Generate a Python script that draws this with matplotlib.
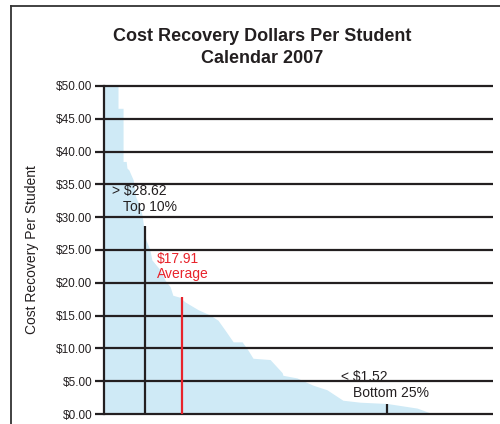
import numpy as np
import matplotlib
matplotlib.use("Agg")
import matplotlib.pyplot as plt
from matplotlib.lines import Line2D

plt.rcParams['font.family'] = ['Liberation Sans', 'DejaVu Sans']

# ranked share of districts (%) and cost recovery per student ($), traced edge of the profile
rank_pct = [0.0, 3.6, 3.6, 4.9, 4.9, 5.7, 5.9, 6.4, 7.5, 8.2, 9.0, 9.8, 10.3,
            10.8, 11.3, 11.8, 12.3, 14.4, 15.7, 17.0, 17.7, 19.5, 20.8, 24.2,
            27.2, 29.3, 31.1, 33.2, 35.5, 37.0, 38.3, 42.7, 45.8, 46.0, 49.6,
            53.7, 57.3, 61.4, 65.8, 72.8, 80.5, 84.6]
dollars = [55.0, 55.0, 46.6, 46.6, 38.5, 38.5, 37.5, 37.2, 35.7, 33.0, 32.0,
           30.3, 28.0, 26.5, 25.8, 25.0, 23.5, 22.0, 20.4, 19.4, 18.1, 17.8,
           17.1, 15.9, 15.1, 14.3, 12.8, 11.0, 11.0, 9.75, 8.5, 8.3, 6.3, 5.9,
           5.5, 4.4, 3.7, 2.1, 1.8, 1.6, 0.9, 0.0]

# marker lines: (position, value)
top10_x, top10_val = 10.5, 28.62
avg_x, avg_val = 20.1, 17.91
bottom25_x, bottom25_val = 72.8, 1.52

yticks = [0, 5, 10, 15, 20, 25, 30, 35, 40, 45, 50]
ytick_labels = ['$%.2f' % v for v in yticks]

ink = '#231f20'
red = '#e8232b'
blue = '#cfeaf6'

fig = plt.figure(figsize=(5.0, 4.24), dpi=100)
ax = fig.add_axes([104 / 500, 10 / 424, (493 - 104) / 500, (414 - 86) / 424])

ax.fill_between(rank_pct, dollars, 0, color=blue, lw=0, zorder=1)

ax.set_xlim(0, 100)
ax.set_ylim(0, 50)
ax.hlines(yticks, 0, 100, color=ink, lw=1.6, clip_on=False, zorder=3)

ax.vlines(top10_x, 0, top10_val, color=ink, lw=1.6, zorder=4)
ax.vlines(avg_x, 0, avg_val, color=red, lw=1.6, zorder=4)
ax.vlines(bottom25_x, 0, bottom25_val, color=ink, lw=1.6, zorder=4)

ax.set_yticks(yticks)
ax.set_yticklabels(ytick_labels, fontsize=8.5, color=ink)
ax.tick_params(axis='y', length=6.5, width=1.6, color=ink, pad=2)
ax.set_xticks([])
for side in ['top', 'right', 'bottom']:
    ax.spines[side].set_visible(False)
ax.spines['left'].set_linewidth(1.6)
ax.spines['left'].set_color(ink)
ax.spines['left'].set_zorder(5)

ax.set_ylabel('Cost Recovery Per Student', fontsize=10, color=ink, labelpad=12)

# annotations
ax.text(2.0, 34.0, '> $28.62', fontsize=10, color=ink, va='center', zorder=6)
ax.text(4.8, 31.6, 'Top 10%', fontsize=10, color=ink, va='center', zorder=6)
ax.text(13.5, 23.6, '$17.91', fontsize=10, color=red, va='center', zorder=6)
ax.text(13.5, 21.3, 'Average', fontsize=10, color=red, va='center', zorder=6)
ax.text(61.0, 5.7, '< $1.52', fontsize=10, color=ink, va='center', zorder=6)
ax.text(64.0, 3.2, 'Bottom 25%', fontsize=10, color=ink, va='center', zorder=6)

fig.text(0.524, 0.915, 'Cost Recovery Dollars Per Student', fontsize=13,
         fontweight='bold', color=ink, ha='center', va='center')
fig.text(0.524, 0.862, 'Calendar 2007', fontsize=13,
         fontweight='bold', color=ink, ha='center', va='center')

# outer frame, open on the right and bottom
fig.add_artist(Line2D([10.5 / 500, 10.5 / 500], [0, 1 - 5.5 / 424],
                      transform=fig.transFigure, color='#333333', lw=1.3))
fig.add_artist(Line2D([10.5 / 500, 1], [1 - 5.5 / 424, 1 - 5.5 / 424],
                      transform=fig.transFigure, color='#333333', lw=1.3))

fig.savefig('out.png', dpi=100)
